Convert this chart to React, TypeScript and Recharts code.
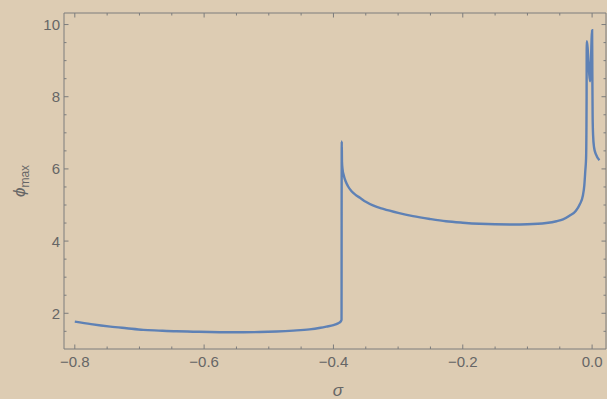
import { Line, LineChart, XAxis, YAxis } from 'recharts';

// sigma / phi_max
const SIGMA = [
  -0.8, -0.775, -0.745, -0.72, -0.694, -0.67, -0.643, -0.617, -0.591, -0.565,
  -0.54, -0.514, -0.488, -0.462, -0.437, -0.42, -0.411, -0.4, -0.393, -0.3885,
  -0.3875, -0.3872, -0.3868, -0.386, -0.384, -0.381, -0.3775, -0.372, -0.365,
  -0.359, -0.35, -0.338, -0.323, -0.3, -0.277, -0.25, -0.226, -0.2, -0.174,
  -0.15, -0.123, -0.1, -0.071, -0.055, -0.045, -0.035, -0.025, -0.019, -0.0145,
  -0.012, -0.0105, -0.0093, -0.0088, -0.0085, -0.0083, -0.003, 0.0, 0.0004,
  0.0008, 0.0015, 0.003, 0.006, 0.0113,
];
const PHI_MAX = [
  1.77, 1.7, 1.63, 1.585, 1.54, 1.52, 1.5, 1.49, 1.48, 1.475, 1.475, 1.48,
  1.495, 1.52, 1.555, 1.6, 1.63, 1.67, 1.72, 1.78, 1.82, 6.76, 6.2, 6.0, 5.82,
  5.65, 5.52, 5.38, 5.27, 5.2, 5.09, 4.98, 4.89, 4.78, 4.69, 4.61, 4.55, 4.51,
  4.48, 4.465, 4.46, 4.465, 4.5, 4.55, 4.6, 4.7, 4.84, 5.02, 5.24, 5.55, 5.95,
  6.3, 7.0, 8.0, 9.54, 8.43, 9.84, 8.6, 7.5, 6.95, 6.6, 6.4, 6.24,
];

const X_MAJOR = [-0.8, -0.6, -0.4, -0.2, 0];
const X_MINOR = [-0.75, -0.7, -0.65, -0.55, -0.5, -0.45, -0.35, -0.3, -0.25, -0.15, -0.1, -0.05];
const Y_MAJOR = [2, 4, 6, 8, 10];
const Y_MINOR = [1.5, 2.5, 3, 3.5, 4.5, 5, 5.5, 6.5, 7, 7.5, 8.5, 9, 9.5];

const X_DOMAIN = [-0.8167, 0.0215];
const Y_DOMAIN = [1.01, 10.32];

const data = SIGMA.map((s, i) => ({ sigma: s, phi: PHI_MAX[i] }));

const AXIS = '#7c7c7c';
const LABEL = '#666666';
const FONT = '"Liberation Sans", Arial, sans-serif';
const MAJOR_LEN = 4.5;
const MINOR_LEN = 2.5;
const X_MARGIN = 7;
const Y_MARGIN = 4;

const isMajor = (list: number[], v: number) => list.some((m) => Math.abs(m - v) < 1e-9);
const fmtX = (v: number) => (v === 0 ? '0.0' : (v < 0 ? '\u2212' : '') + Math.abs(v).toFixed(1));

function BottomTick({ x, y, payload }: any) {
  const v = payload.value;
  const axisY = y - X_MARGIN;
  const major = isMajor(X_MAJOR, v);
  return (
    <g>
      <line x1={x} x2={x} y1={axisY} y2={axisY - (major ? MAJOR_LEN : MINOR_LEN)} stroke={AXIS} />
      {major && (
        <text x={x} y={y} dy={11} textAnchor="middle" fill={LABEL} fontSize={15} fontFamily={FONT}>
          {fmtX(v)}
        </text>
      )}
    </g>
  );
}

function TopTick({ x, y, payload }: any) {
  const major = isMajor(X_MAJOR, payload.value);
  return <line x1={x} x2={x} y1={y} y2={y + (major ? MAJOR_LEN : MINOR_LEN)} stroke={AXIS} />;
}

function LeftTick({ x, y, payload }: any) {
  const v = payload.value;
  const axisX = x + Y_MARGIN;
  const major = isMajor(Y_MAJOR, v);
  return (
    <g>
      <line x1={axisX} x2={axisX + (major ? MAJOR_LEN : MINOR_LEN)} y1={y} y2={y} stroke={AXIS} />
      {major && (
        <text x={x} y={y} dy={5.5} textAnchor="end" fill={LABEL} fontSize={15} fontFamily={FONT}>
          {v}
        </text>
      )}
    </g>
  );
}

function RightTick({ x, y, payload }: any) {
  const major = isMajor(Y_MAJOR, payload.value);
  return <line x1={x} x2={x - (major ? MAJOR_LEN : MINOR_LEN)} y1={y} y2={y} stroke={AXIS} />;
}

function PhiLabel({ viewBox }: any) {
  const cx = viewBox.x + 20;
  const cy = viewBox.y + viewBox.height / 2;
  return (
    <text transform={`translate(${cx},${cy}) rotate(-90)`} textAnchor="middle" fill={LABEL} fontFamily={FONT} dy={5}>
      <tspan fontStyle="italic" fontSize={17}>{'\u03d5'}</tspan>
      <tspan fontSize={12} dy={4}>max</tspan>
    </text>
  );
}

function SigmaLabel({ viewBox }: any) {
  return (
    <text x={viewBox.x + viewBox.width / 2 + 3} y={viewBox.y + 47} textAnchor="middle" fill={LABEL} fontSize={17} fontStyle="italic" fontFamily={FONT}>
      {'\u03c3'}
    </text>
  );
}

export default function App() {
  const xTicks = [...X_MAJOR, ...X_MINOR].sort((a, b) => a - b);
  const yTicks = [...Y_MAJOR, ...Y_MINOR].sort((a, b) => a - b);
  return (
    <div style={{ position: 'absolute', left: 0, top: 0, width: 607, height: 399, background: '#ddccb3' }}>
      <LineChart width={607} height={399} data={data} margin={{ top: 12, right: 0, bottom: 0, left: 0 }}>
        <XAxis
          dataKey="sigma"
          type="number"
          domain={X_DOMAIN}
          allowDataOverflow
          ticks={xTicks}
          tick={BottomTick}
          tickSize={0}
          tickMargin={X_MARGIN}
          tickLine={false}
          stroke={AXIS}
          height={50}
          interval={0}
          label={SigmaLabel}
        />
        <XAxis
          xAxisId="top"
          orientation="top"
          dataKey="sigma"
          type="number"
          domain={X_DOMAIN}
          allowDataOverflow
          ticks={xTicks}
          tick={TopTick}
          tickSize={0}
          tickMargin={0}
          tickLine={false}
          stroke={AXIS}
          height={1}
          interval={0}
        />
        <YAxis
          type="number"
          domain={Y_DOMAIN}
          allowDataOverflow
          ticks={yTicks}
          tick={LeftTick}
          tickSize={0}
          tickMargin={Y_MARGIN}
          tickLine={false}
          stroke={AXIS}
          width={64}
          interval={0}
          label={PhiLabel}
        />
        <YAxis
          yAxisId="right"
          orientation="right"
          type="number"
          domain={Y_DOMAIN}
          allowDataOverflow
          ticks={yTicks}
          tick={RightTick}
          tickSize={0}
          tickMargin={0}
          tickLine={false}
          stroke={AXIS}
          width={1}
          interval={0}
        />
        <Line
          dataKey="phi"
          type="monotone"
          stroke="#5e81b5"
          strokeWidth={2.4}
          dot={false}
          isAnimationActive={false}
        />
      </LineChart>
    </div>
  );
}
